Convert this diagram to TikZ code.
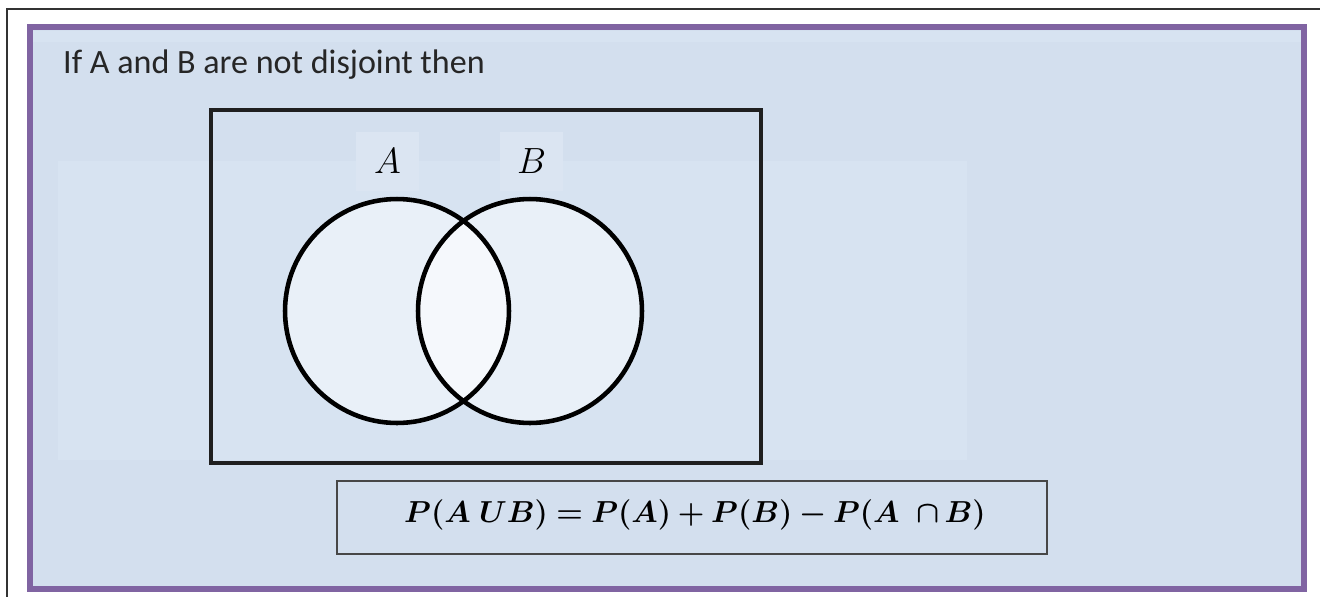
\documentclass[tikz,border=0pt]{standalone}
\usepackage{fontspec}
\setmainfont{Carlito}
\usepackage{bm}
\usetikzlibrary{positioning}
\definecolor{framepurple}{HTML}{8064A2}
\definecolor{panelblue}{HTML}{D3DFEE}
\definecolor{bandblue}{HTML}{D7E3F1}
\definecolor{setfill}{HTML}{E9F0F8}
\definecolor{capfill}{HTML}{F5F8FC}
\definecolor{tagfill}{HTML}{DBE5F2}

\begin{document}
\begin{tikzpicture}[x=0.02cm, y=-0.02cm,
    setc/.style={circle, draw=black, line width=2.6pt, minimum size=4.48cm, inner sep=0pt},
    univ/.style={draw=black!88, line width=1.8pt, minimum width=11cm, minimum height=7.06cm, inner sep=0pt},
    tag/.style={fill=tagfill, minimum width=1.26cm, minimum height=1.18cm, inner sep=0pt, font=\fontsize{20.74}{24}\selectfont},
    lawbox/.style={draw=black!72, line width=1.2pt, minimum width=14.2cm, minimum height=1.46cm, inner sep=0pt}
  ]
  \useasboundingbox (0,0) rectangle (1320,596);
  \clip (0,0) rectangle (1320,596);
  % page frame and slide panel
  \draw[black!80, line width=1.1pt] (7,9) rectangle (1330,606);
  \draw[framepurple, line width=3.4pt, fill=panelblue] (30,27) rectangle (1304,589);
  \fill[bandblue] (33,31) rectangle (1301,42);
  \fill[bandblue] (58,161) rectangle (967,460);

  \node[anchor=base west, text=black!85, font=\fontsize{19.4}{23}\selectfont] (title) at (57,73) {If A and B are not disjoint then};

  % Venn diagram
  \node[univ] (U) at (486,286.5) {};
  \fill[setfill] (397,311) circle (112);
  \fill[setfill] (530,311) circle (112);
  \begin{scope}
    \clip (397,311) circle (112);
    \fill[capfill] (530,311) circle (112);
  \end{scope}
  \node[setc] (setA) at (397,311) {};
  \node[setc] (setB) at (530,311) {};
  \node[tag] (tagA) at (387.5,161.5) {$A$};
  \node[tag] (tagB) at (531.5,161.5) {$B$};

  % addition rule
  \node[lawbox] (box) at (692,517.5) {};
  \node[anchor=base, font=\fontsize{17.28}{21}\selectfont] (law) at (695,522)
    {$\bm{P(A\;UB)=P(A)+P(B)-P(A\;\;{\cap}\,B)}$};
\end{tikzpicture}
\end{document}
